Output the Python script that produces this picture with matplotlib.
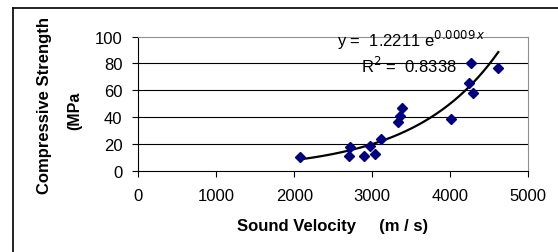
import numpy as np
import matplotlib.pyplot as plt
from matplotlib.lines import Line2D

plt.rcParams['font.family'] = ['Liberation Sans', 'DejaVu Sans']

# data
velocity = [2073, 2697, 2714, 2890, 2971, 3039, 3116, 3330, 3360, 3385,
            4013, 4240, 4270, 4291, 4615]
strength = [10.4, 11.2, 17.4, 11.2, 18.7, 12.2, 23.7, 36.1, 41.0, 46.6,
            38.6, 65.4, 80.4, 58.2, 76.6]
x_ticks = [0, 1000, 2000, 3000, 4000, 5000]
y_ticks = [0, 20, 40, 60, 80, 100]

W, H = 558, 253
fig = plt.figure(figsize=(W / 100, H / 100), dpi=100)
ax = fig.add_axes([138.3 / W, 1 - 171.7 / H, 390 / W, 134 / H])

# exponential trend line (fit on log y)
b, ln_a = np.polyfit(velocity, np.log(strength), 1)
xs = np.linspace(min(velocity), max(velocity), 200)
ax.plot(xs, np.exp(ln_a) * np.exp(b * xs), color='black', lw=1.6, zorder=3)

ax.plot(velocity, strength, linestyle='none', marker='D', markersize=5.5,
        color='#000080', zorder=4)

ax.set_xlim(0, 5000)
ax.set_ylim(0, 100)
ax.set_xticks(x_ticks)
ax.set_yticks(y_ticks)
ax.tick_params(labelsize=12, direction='out', length=4.5, width=0.8)
ax.tick_params(axis='x', pad=8)
ax.tick_params(axis='y', pad=7)
for y in y_ticks[1:-1]:
    ax.axhline(y, color='black', lw=0.8, zorder=1)
for s in ['top', 'right']:
    ax.spines[s].set_color('#909090')
for s in ['left', 'bottom']:
    ax.spines[s].set_color('black')

ax.text(0.70, 0.979, r'y =  1.2211 e$^{0.0009\,x}$', transform=ax.transAxes,
        ha='center', va='center', fontsize=12)
ax.text(0.693, 0.789, r'R$^2$ =  0.8338', transform=ax.transAxes,
        ha='center', va='center', fontsize=12)

fig.text(333 / W, 1 - 227 / H, 'Sound Velocity     (m / s)', ha='center',
         va='center', fontsize=12, fontweight='bold')
fig.text(45 / W, 1 - 105 / H, 'Compressive Strength', rotation=90,
         ha='center', va='center', fontsize=12, fontweight='bold')
fig.text(75 / W, 1 - 111 / H, '(MPa', rotation=90,
         ha='center', va='center', fontsize=11.5, fontweight='bold')

# outer chart frame
fig.add_artist(Line2D([13 / W, 13 / W], [0, 1 - 9 / H], transform=fig.transFigure,
                      color='black', lw=1.2))
fig.add_artist(Line2D([13 / W, 1], [1 - 9 / H, 1 - 9 / H], transform=fig.transFigure,
                      color='black', lw=1.2))

fig.savefig('out.png', dpi=100)
